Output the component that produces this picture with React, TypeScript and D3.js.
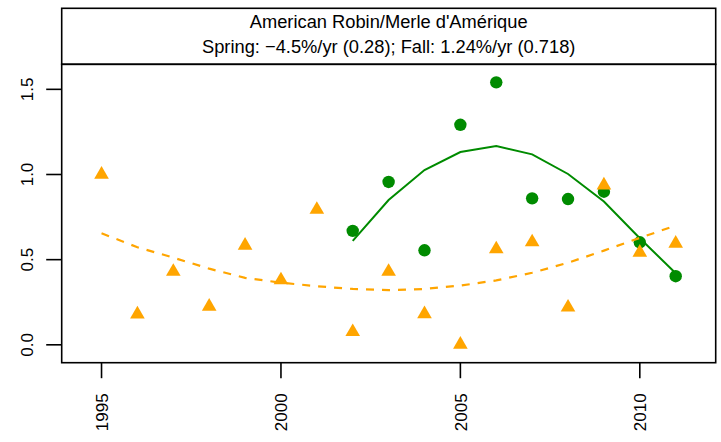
import React from "react";
import * as d3 from "d3";

const years = [1995, 1996, 1997, 1998, 1999, 2000, 2001, 2002, 2003, 2004, 2005, 2006, 2007, 2008, 2009, 2010, 2011];
const fallValues = [1.0, 0.18, 0.43, 0.225, 0.583, 0.38, 0.794, 0.076, 0.43, 0.181, 0.002, 0.562, 0.603, 0.22, 0.937, 0.542, 0.595];
const fallTrend = [0.655, 0.573, 0.512, 0.447, 0.393, 0.365, 0.344, 0.328, 0.321, 0.328, 0.348, 0.378, 0.423, 0.482, 0.553, 0.628, 0.7];

const springYears = [2002, 2003, 2004, 2005, 2006, 2007, 2008, 2009, 2010, 2011];
const springValues = [0.669, 0.956, 0.555, 1.292, 1.541, 0.86, 0.856, 0.899, 0.602, 0.403];
const springTrend = [0.61, 0.85, 1.026, 1.132, 1.167, 1.118, 1.003, 0.841, 0.626, 0.42];

const xTicks = [1995, 2000, 2005, 2010];
const yTicks = [0, 0.5, 1.0, 1.5];
const yTickLabels = ["0.0", "0.5", "1.0", "1.5"];

const titleLine1 = "American Robin/Merle d'Amérique";
const titleLine2 = "Spring: \u22124.5%/yr (0.28); Fall: 1.24%/yr (0.718)";

const W = 721;
const H = 442;
const left = 61.7;
const right = 715.7;
const headTop = 8.3;
const plotTop = 64.3;
const plotBottom = 362.7;

const GREEN = "#008B00";
const ORANGE = "#FFA500";
const FONT = "'Liberation Sans', Arial, Helvetica, sans-serif";

export default function App() {
  const x = d3.scaleLinear().domain([1993.89, 2012.115]).range([left, right]);
  const y = d3.scaleLinear().domain([-0.105, 1.647]).range([plotBottom, plotTop]);

  const line = d3
    .line<[number, number]>()
    .x((d) => x(d[0]))
    .y((d) => y(d[1]));

  const springPath = line(springYears.map((yr, i) => [yr, springTrend[i]]))!;
  const fallPath = line(years.map((yr, i) => [yr, fallTrend[i]]))!;

  const triR = 8.45;
  const triXc = triR * 0.866;
  const triYc = triR * 0.5;
  const tri = (cx: number, cy: number) =>
    `M${cx},${cy - triR}L${cx + triXc},${cy + triYc}L${cx - triXc},${cy + triYc}Z`;

  const fs = 17;
  const hfs = 18.3;

  return (
    <svg width={W} height={H} style={{ position: "absolute", left: 0, top: 0, background: "#fff" }} fontFamily={FONT}>
      <rect x={0} y={0} width={W} height={H} fill="#fff" />
      {/* header box */}
      <rect x={left} y={headTop} width={right - left} height={plotTop - headTop} fill="#fff" stroke="#000" strokeWidth={1.6} />
      <text x={(left + right) / 2} y={27.5} textAnchor="middle" fontSize={hfs} fill="#000">
        {titleLine1}
      </text>
      <text x={(left + right) / 2} y={53} textAnchor="middle" fontSize={hfs} fill="#000">
        {titleLine2}
      </text>

      {/* marks */}
      <clipPath id="plotclip">
        <rect x={left} y={plotTop} width={right - left} height={plotBottom - plotTop} />
      </clipPath>
      <g clipPath="url(#plotclip)">
        {springYears.map((yr, i) => (
          <circle key={"s" + yr} cx={x(yr)} cy={y(springValues[i])} r={6.2} fill={GREEN} />
        ))}
        <path d={springPath} fill="none" stroke={GREEN} strokeWidth={2} />
        {years.map((yr, i) => (
          <path key={"f" + yr} d={tri(x(yr), y(fallValues[i]))} fill={ORANGE} />
        ))}
        <path d={fallPath} fill="none" stroke={ORANGE} strokeWidth={2.2} strokeDasharray="8,8" />
      </g>

      {/* plot box */}
      <rect x={left} y={plotTop} width={right - left} height={plotBottom - plotTop} fill="none" stroke="#000" strokeWidth={1.6} />

      {/* y axis */}
      {yTicks.map((t, i) => (
        <g key={"y" + t}>
          <line x1={left - 15.5} x2={left} y1={y(t)} y2={y(t)} stroke="#000" strokeWidth={1.6} />
          <text
            transform={`translate(32.5,${y(t)}) rotate(-90)`}
            textAnchor="middle"
            fontSize={fs}
            fill="#000"
          >
            {yTickLabels[i]}
          </text>
        </g>
      ))}

      {/* x axis */}
      {xTicks.map((t) => (
        <g key={"x" + t}>
          <line x1={x(t)} x2={x(t)} y1={plotBottom} y2={plotBottom + 15.5} stroke="#000" strokeWidth={1.6} />
          <text
            transform={`translate(${x(t) + 6.3},393.3) rotate(-90)`}
            textAnchor="end"
            fontSize={fs}
            fill="#000"
          >
            {t}
          </text>
        </g>
      ))}
    </svg>
  );
}
